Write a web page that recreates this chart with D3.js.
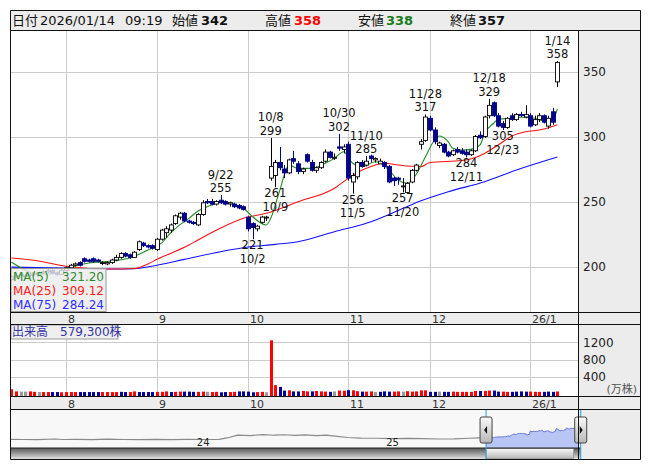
<!DOCTYPE html>
<html><head><meta charset="utf-8">
<script src="https://cdn.jsdelivr.net/npm/d3@7"></script>
<style>
body{margin:0;background:#fff}
svg{display:block}
text{font-family:"DejaVu Sans",sans-serif}
.cjk{font-family:"DejaVu Sans","Noto Sans CJK JP",sans-serif}
</style>
</head><body>
<svg id="chart" width="653" height="470"></svg>
<script>
// ---------- DATA ----------
const dates = [
"2025-07-15","2025-07-16","2025-07-17","2025-07-18","2025-07-22","2025-07-23","2025-07-24","2025-07-25","2025-07-28","2025-07-29","2025-07-30","2025-07-31",
"2025-08-01","2025-08-04","2025-08-05","2025-08-06","2025-08-07","2025-08-08","2025-08-12","2025-08-13","2025-08-14","2025-08-15","2025-08-18","2025-08-19","2025-08-20","2025-08-21","2025-08-22","2025-08-25","2025-08-26","2025-08-27","2025-08-28","2025-08-29",
"2025-09-01","2025-09-02","2025-09-03","2025-09-04","2025-09-05","2025-09-08","2025-09-09","2025-09-10","2025-09-11","2025-09-12","2025-09-16","2025-09-17","2025-09-18","2025-09-19","2025-09-22","2025-09-24","2025-09-25","2025-09-26","2025-09-29","2025-09-30",
"2025-10-01","2025-10-02","2025-10-03","2025-10-06","2025-10-07","2025-10-08","2025-10-09","2025-10-10","2025-10-14","2025-10-15","2025-10-16","2025-10-17","2025-10-20","2025-10-21","2025-10-22","2025-10-23","2025-10-24","2025-10-27","2025-10-28","2025-10-29","2025-10-30","2025-10-31",
"2025-11-04","2025-11-05","2025-11-06","2025-11-07","2025-11-10","2025-11-11","2025-11-12","2025-11-13","2025-11-14","2025-11-17","2025-11-18","2025-11-19","2025-11-20","2025-11-21","2025-11-25","2025-11-26","2025-11-27","2025-11-28",
"2025-12-01","2025-12-02","2025-12-03","2025-12-04","2025-12-05","2025-12-08","2025-12-09","2025-12-10","2025-12-11","2025-12-12","2025-12-15","2025-12-16","2025-12-17","2025-12-18","2025-12-19","2025-12-22","2025-12-23","2025-12-24","2025-12-25","2025-12-26","2025-12-29","2025-12-30",
"2026-01-05","2026-01-06","2026-01-07","2026-01-08","2026-01-09","2026-01-13","2026-01-14"];

const opens = [190,192,194,193,193,194,195,195,196,197,195,194,
197,199,201,203,206,205,206,205,203,202,203,205,207,210,209,207,213,218,216,216,
213,221,226,228,233,238,241,235,234,232,240,250,250,248,251,250,248,248,247,246,
238,233,229,234,238,268,270,280,275,272,283,279,273,286,280,274,276,281,288,284,292,290,
294,265,269,280,278,285,282,279,280,277,268,268,262,257,265,274,294,297,
314,305,293,294,288,286,290,289,288,286,289,301,300,316,326,316,310,307,316,313,317,315,
316,309,313,316,308,319,342];
const highs = [193,194,195,194,195,196,196,197,198,198,196,198,
200,202,203,204,207,206,207,206,204,204,206,209,211,211,210,212,220,219,217,217,
222,229,231,233,240,242,242,236,235,241,251,252,252,251,255,251,250,249,248,247,
239,234,232,239,239,299,282,292,278,283,289,281,276,287,282,277,281,290,289,287,302,294,
296,272,281,282,285,286,284,283,281,278,269,269,268,265,275,279,298,317,
316,307,296,295,289,290,292,291,290,290,301,304,316,329,327,318,312,315,318,318,319,324,
318,316,318,317,316,322,358];
const lows = [189,191,192,192,192,193,194,194,195,194,193,194,
196,198,200,200,203,203,203,203,201,201,202,204,206,207,206,207,212,215,214,213,
212,220,222,226,232,236,234,233,232,231,239,248,247,247,248,247,246,245,244,243,
227,221,227,233,235,266,261,274,268,271,279,271,271,280,273,272,275,280,283,282,289,287,
266,256,267,276,277,280,280,279,275,264,262,263,257,256,264,273,290,296,
304,294,291,287,284,285,287,286,284,285,288,298,299,314,315,307,305,306,312,312,315,314,
307,308,311,310,306,309,338];
const closes = [192,193,193,193,194,195,195,196,197,195,194,197,
199,201,202,201,204,204,204,204,203,203,205,207,210,208,207,211,219,216,215,214,
221,228,229,232,239,241,235,234,233,240,249,249,248,250,249,248,249,246,245,244,
229,230,231,238,238,277,280,276,272,282,281,273,275,281,274,276,280,288,284,284,291,292,
268,270,280,277,281,283,283,281,277,265,266,267,262,264,274,278,296,315,
305,296,295,288,285,289,288,287,286,289,300,299,315,324,316,308,307,314,313,317,316,317,
308,313,316,311,314,311,357];
// volume, 万株
const volumes = [110,60,55,55,60,50,45,45,45,45,45,40,
45,45,45,45,45,45,45,45,45,45,45,45,50,45,45,60,45,45,45,45,
50,50,60,45,50,55,55,55,50,50,55,50,45,50,40,45,45,50,60,60,
55,40,45,50,40,1245,205,165,80,85,60,60,70,60,60,70,60,55,50,60,80,75,
90,85,65,55,55,60,45,50,60,55,55,60,55,65,55,60,85,85,
50,50,55,50,50,55,50,50,50,50,70,70,70,80,80,55,55,50,50,55,60,55,
55,50,50,50,55,50,58];
// volume bar colour class: u = up, d = down, n = unchanged
const volDir = ["u","u","n","n","u","u","n","u","u","d","d","u",
"u","u","u","d","d","d","d","d","u","u","u","u","d","d","u","u","d","d","d","d",
"u","u","u","d","u","u","d","d","d","u","u","n","u","u","d","d","u","u","d","d",
"d","d","u","u","n","u","u","d","d","u","d","d","u","u","d","u","u","u","d","n","u","u",
"d","u","u","d","u","u","n","d","d","d","u","u","n","u","u","u","u","u",
"d","d","n","d","d","u","u","u","u","u","u","d","u","u","d","d","u","u","d","d","d","d",
"u","u","u","d","d","d","u"];

// moving averages (date index, value)
const ma5Idx  = [0,3,6,9,12,14,17,22,26,30,33,35,37,39,41,44,46,49,51,53,56,57,59,61,63,66,69,71,73,75,77,80,81,83,85,87,89,91,93,94,96,97,99,101,103,104,106,107,110,112,115,117,119,120];
const ma5Val  = [203.5,197.3,194,194.5,197.5,200.4,202.7,204.2,206.5,212.7,218,225.8,232,237,242.7,247.3,249.8,248,244.8,238.3,231.9,237.1,258.8,278,275.5,275.5,279.4,283.2,288.3,279.4,276.8,280.6,279.7,274.2,266.5,264,271,284.5,297.3,300.4,296,290.9,289.6,290.1,293.5,302.5,310.2,313.2,314,314.8,314,312.2,313.2,321.2];
const ma25Idx = [0,6,12,21,27,30,32,39,41,46,51,56,63,71,74,78,82,85,90,92,99,104,107,110,113,116,120];
const ma25Val = [206.5,204.2,200.2,198.1,198.5,202,205.5,216.5,220.4,229.6,237.1,240.9,249.8,260.2,267.8,275.5,279.4,278.1,276.8,280,281.5,287,293.5,300.4,303.7,305,309.1];
const ma75Idx = [0,11,22,27,32,38,46,52,58,63,71,78,85,90,96,104,111,120];
const ma75Val = [199.5,198.8,198.1,198.3,201,205.5,211.4,215,217,219.1,226.8,233.2,243,250.5,257.5,265.2,274.2,284.2];

// high / low annotations
const markDates = ["2025-09-22","2025-10-08","2025-10-30","2025-11-10","2025-11-28","2025-12-18","2026-01-14","2025-10-02","2025-10-09","2025-11-05","2025-11-20","2025-12-11","2025-12-23"];
const markLabels= ["9/22","10/8","10/30","11/10","11/28","12/18","1/14","10/2","10/9","11/5","11/20","12/11","12/23"];
const markVals  = [255,299,302,285,317,329,358,221,261,256,257,284,305];
const markTypes = ["H","H","H","H","H","H","H","L","L","L","L","L","L"];

const priceTicks = [200,250,300,350];
const volTicks = [400,800,1200];
const monthDates = ["2025-08-01","2025-09-01","2025-10-01","2025-11-04","2025-12-01","2026-01-05"];
const monthLabels = ["8","9","10","11","12","26/1"];

const legendNames = ["MA(5)","MA(25)","MA(75)"];
const legendVals = ["321.20","309.12","284.24"];
const volLabel = "出来高　579,300株";

const headerLabels = ["日付","始値","高値","安値","終値"];
const headerValues = ["2026/01/14","342","358","338","357"];
const headerTime = "09:19";

// navigator history (closes before the shown window)
const navDates = ["2023-01-05","2023-02-01","2023-03-01","2023-04-03","2023-04-20","2023-05-15","2023-06-15","2023-07-14","2023-08-15","2023-09-15","2023-10-16","2023-11-15","2023-12-15",
"2024-01-15","2024-02-15","2024-03-01","2024-03-22","2024-04-15","2024-05-10","2024-05-31","2024-06-20","2024-07-10","2024-07-31","2024-08-20","2024-09-10","2024-09-30","2024-10-20","2024-11-15","2024-12-15",
"2025-01-15","2025-02-14","2025-03-14","2025-04-15","2025-05-15","2025-06-13","2025-07-01","2025-07-15"];
const navVals = [172,170,168,176,170,171,169,175,170,168,172,169,171,
170,172,190,228,222,235,226,232,224,230,220,226,212,196,188,186,
182,184,180,176,178,186,190,192];
const yearTicks = ["2024-01-01","2025-01-01"];
const yearLabels = ["24","25"];

// ---------- DRAW ----------
const svg = d3.select("#chart");
const L = 10.5, R = 578.5, RR = 640.5;
const TOP = 30.5, PB = 312.5, VT = 324.5, VB = 396.5, NT = 409.5, NB = 459.5;
const panel = "#ececec", grid = "#cccccc";

const x = d3.scalePoint().domain(dates).range([11.4, 557.4]);
const y = d3.scaleLinear().domain([200,350]).range([266.5,71.5]);
const vy = d3.scaleLinear().domain([0,1200]).range([394,342.3]);

// backgrounds
svg.append("rect").attr("x",0).attr("y",0).attr("width",653).attr("height",470).attr("fill","#fff");
svg.append("rect").attr("x",L).attr("y",10.5).attr("width",RR-L).attr("height",20).attr("fill",panel);
svg.append("rect").attr("x",R).attr("y",TOP).attr("width",RR-R).attr("height",NB-TOP).attr("fill",panel);
svg.append("rect").attr("x",L).attr("y",PB).attr("width",R-L).attr("height",VT-PB).attr("fill",panel);
svg.append("rect").attr("x",L).attr("y",VB).attr("width",R-L).attr("height",NT-VB).attr("fill",panel);
svg.append("rect").attr("x",L).attr("y",NT).attr("width",R-L).attr("height",NB-NT).attr("fill","#f8f8f8");

// header text
const hx = [12,172,265,358,450];
const hvx = [40,201,294,386,478];
const hcol = ["#111","#111","#ff0000","#1a7a1a","#111"];
headerLabels.forEach((t,i)=>{
  svg.append("text").attr("class","cjk").attr("x",hx[i]).attr("y",25).attr("font-size",13).attr("fill","#111").text(t);
  svg.append("text").attr("x",hvx[i]).attr("y",25).attr("font-size",13)
    .attr("font-weight",i===0?"normal":"bold").attr("fill",hcol[i]).text(headerValues[i]);
});
svg.append("text").attr("x",125).attr("y",25).attr("font-size",13).attr("fill","#111").text(headerTime);

// grid main
const mg = svg.append("g");
priceTicks.forEach(v=>{
  mg.append("line").attr("x1",L).attr("x2",R).attr("y1",Math.round(y(v))+0.5).attr("y2",Math.round(y(v))+0.5).attr("stroke",grid);
});
monthDates.forEach(d=>{
  const xx = Math.round(x(d))+0.5;
  mg.append("line").attr("x1",xx).attr("x2",xx).attr("y1",TOP).attr("y2",PB).attr("stroke",grid);
  mg.append("line").attr("x1",xx).attr("x2",xx).attr("y1",VT).attr("y2",VB).attr("stroke",grid);
});
volTicks.forEach(v=>{
  mg.append("line").attr("x1",L).attr("x2",R).attr("y1",Math.round(vy(v))+0.5).attr("y2",Math.round(vy(v))+0.5).attr("stroke",grid);
});

// clip for plot
svg.append("clipPath").attr("id","pc").append("rect").attr("x",L).attr("y",TOP).attr("width",R-L).attr("height",PB-TOP);
const plot = svg.append("g").attr("clip-path","url(#pc)");

// MA lines
const line = d3.line().curve(d3.curveMonotoneX);
function maLine(idx, vals, col){
  plot.append("path").attr("d", line(idx.map((k,j)=>[x(dates[k]), y(vals[j])])))
    .attr("fill","none").attr("stroke",col).attr("stroke-width",1.1);
}
maLine(ma75Idx, ma75Val, "#1010ff");
maLine(ma25Idx, ma25Val, "#ff1010");
maLine(ma5Idx, ma5Val, "#228b22");

// candles
const down = "#000088";
const cw = 4;
dates.forEach((d,i)=>{
  const cx = Math.round(x(d));
  const up = closes[i] >= opens[i];
  plot.append("line").attr("x1",cx+0.5).attr("x2",cx+0.5).attr("y1",y(highs[i])).attr("y2",y(lows[i]))
    .attr("stroke",up?"#000":down).attr("stroke-width",1);
  const top = y(Math.max(opens[i],closes[i])), bot = y(Math.min(opens[i],closes[i]));
  plot.append("rect").attr("x",cx-1.5).attr("y",top).attr("width",cw).attr("height",Math.max(1,bot-top))
    .attr("fill",up?"#fff":down).attr("stroke",up?"#000":down).attr("stroke-width",0.9);
});

// annotations
markDates.forEach((d,i)=>{
  const cx = x(d);
  const t = svg.append("text").attr("font-size",11.5).attr("fill","#111").attr("text-anchor","middle");
  if(markTypes[i]==="H"){
    t.append("tspan").attr("x",cx).attr("y",y(markVals[i])-16.5).text(markLabels[i]);
    t.append("tspan").attr("x",cx).attr("y",y(markVals[i])-3).text(markVals[i]);
  } else {
    t.append("tspan").attr("x",cx).attr("y",y(markVals[i])+10).text(markVals[i]);
    t.append("tspan").attr("x",cx).attr("y",y(markVals[i])+23.5).text(markLabels[i]);
  }
});

// legend
const lg = svg.append("g");
lg.append("rect").attr("x",L+0.5).attr("y",268.5).attr("width",95).attr("height",43).attr("fill","rgba(236,236,236,0.82)").attr("stroke","#999");
const lcol = ["#2e8b2e","#ff2020","#3030ff"];
legendNames.forEach((n,i)=>{
  lg.append("text").attr("x",13).attr("y",280.5+i*14).attr("font-size",12).attr("fill",lcol[i]).text(n);
  lg.append("text").attr("x",104).attr("y",280.5+i*14).attr("font-size",12).attr("text-anchor","end").attr("fill",lcol[i]).text(legendVals[i]);
});

// volume bars
const vcol = {u:"#ff0000", d:"#000099", n:"#999999"};
const vg = svg.append("g");
dates.forEach((d,i)=>{
  const cx = Math.round(x(d));
  vg.append("rect").attr("x",cx-1).attr("y",vy(volumes[i])).attr("width",3).attr("height",VB-vy(volumes[i])).attr("fill",vcol[volDir[i]]);
});
svg.append("rect").attr("x",L+0.5).attr("y",VT+0.5).attr("width",107).attr("height",14).attr("fill","rgba(236,236,236,0.85)").attr("stroke","#999");
svg.append("text").attr("class","cjk").attr("x",12).attr("y",336).attr("font-size",12).attr("fill","#3535a5").text(volLabel);

// axes text
priceTicks.forEach(v=>{
  svg.append("text").attr("x",583).attr("y",y(v)+4.5).attr("font-size",12).attr("fill","#222").text(v);
});
volTicks.forEach(v=>{
  svg.append("text").attr("x",583).attr("y",vy(v)+4.5).attr("font-size",12).attr("fill","#222").text(v);
});
svg.append("text").attr("class","cjk").attr("x",637).attr("y",393).attr("font-size",11).attr("text-anchor","end").attr("fill","#555").text("(万株)");
monthDates.forEach((d,i)=>{
  const xx = Math.round(x(d))+2;
  svg.append("text").attr("x",xx).attr("y",322.5).attr("font-size",11).attr("fill","#333").text(monthLabels[i]);
  svg.append("text").attr("x",xx).attr("y",407.5).attr("font-size",11).attr("fill","#333").text(monthLabels[i]);
});

// navigator
const parse = d3.timeParse("%Y-%m-%d");
const nx = d3.scaleTime().domain([parse("2023-01-01"), parse("2026-01-01")]).range([7,574]);
const ny = d3.scaleLinear().domain([150,400]).range([441,422]);
svg.append("clipPath").attr("id","nc").append("rect").attr("x",L).attr("y",NT).attr("width",R-L).attr("height",NB-NT);
const nav = svg.append("g").attr("clip-path","url(#nc)");
const nl = d3.line().x(d=>nx(parse(d[0]))).y(d=>ny(d[1]));
nav.append("path").attr("d", nl(navDates.map((d,i)=>[d,navVals[i]]))).attr("fill","none").attr("stroke","#8a8a8a").attr("stroke-width",1.2);
const sel = dates.map((d,i)=>[d,closes[i]]);
const area = d3.area().x(d=>nx(parse(d[0]))).y0(448).y1(d=>ny(d[1]));
nav.append("path").attr("d",area(sel)).attr("fill","#b9c6f5");
nav.append("path").attr("d",nl(sel)).attr("fill","none").attr("stroke","#6272d8").attr("stroke-width",1);
yearTicks.forEach((d,i)=>{
  svg.append("text").attr("x",nx(parse(d))+1).attr("y",446).attr("font-size",10).attr("fill","#222").text(yearLabels[i]);
});
// scrollbar
const defs = svg.append("defs");
const g1 = defs.append("linearGradient").attr("id","trk").attr("x1",0).attr("x2",0).attr("y1",0).attr("y2",1);
g1.append("stop").attr("offset","0").attr("stop-color","#555");
g1.append("stop").attr("offset","1").attr("stop-color","#e0e0e0");
const g2 = defs.append("linearGradient").attr("id","thb").attr("x1",0).attr("x2",0).attr("y1",0).attr("y2",1);
g2.append("stop").attr("offset","0").attr("stop-color","#fafafa");
g2.append("stop").attr("offset","1").attr("stop-color","#b8b8b8");
const sx0 = nx(parse(dates[0])), sx1 = nx(parse(dates[dates.length-1]));
svg.append("rect").attr("x",L).attr("y",448).attr("width",sx1-L).attr("height",11).attr("fill","url(#trk)");
svg.append("rect").attr("x",sx0).attr("y",448.5).attr("width",sx1-sx0-7).attr("height",10).attr("fill","url(#thb)").attr("stroke","#888").attr("stroke-width",0.6);
svg.append("line").attr("x1",L).attr("x2",sx1).attr("y1",448).attr("y2",448).attr("stroke","#222");
[sx0,sx1].forEach((sx,k)=>{
  svg.append("line").attr("x1",sx).attr("x2",sx).attr("y1",NT).attr("y2",NB).attr("stroke","#2aa0e0").attr("stroke-width",1);
  svg.append("rect").attr("x",sx-6).attr("y",417).attr("width",12).attr("height",26).attr("rx",2)
    .attr("fill","url(#thb)").attr("stroke","#444");
  const tri = k===0 ? `M${sx+1},426 L${sx-2},430 L${sx+1},434 Z` : `M${sx-1},426 L${sx+2},430 L${sx-1},434 Z`;
  svg.append("path").attr("d",tri).attr("fill","#111");
});

// frame lines
const fl = (x1,y1,x2,y2)=>svg.append("line").attr("x1",x1).attr("y1",y1).attr("x2",x2).attr("y2",y2).attr("stroke","#111");
fl(L,10.5,RR,10.5); fl(L,TOP,RR,TOP); fl(L,10.5,L,NB); fl(RR,10.5,RR,NB); fl(L,NB,RR,NB);
fl(R,TOP,R,NB);
fl(L,PB,RR,PB); fl(L,VT,RR,VT); fl(L,VB,RR,VB); fl(L,NT,RR,NT);
</script>
</body></html>
